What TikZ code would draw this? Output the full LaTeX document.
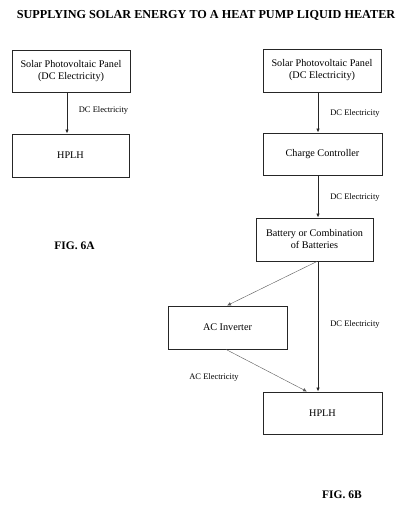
\documentclass[tikz,border=0pt]{standalone}
\usepackage{fontspec}
\setmainfont{Liberation Serif}
\usetikzlibrary{arrows.meta}
\begin{document}
\begin{tikzpicture}[x=1pt,y=-1pt,
  box/.style={draw=black!85,line width=0.9pt,minimum width=118pt,minimum height=42pt,inner sep=1pt,align=center,font=\fontsize{10.2}{12}\selectfont},
  lbl/.style={font=\fontsize{8.5}{10}\selectfont,inner sep=0pt},
  flow/.style={draw=black!85,line width=0.8pt,-{Latex[length=4pt,width=3.5pt]}},
  thin/.style={draw=black!65,line width=0.4pt,-{Latex[length=4pt,width=3.5pt]}},
  fig/.style={font=\bfseries\fontsize{11.5}{13}\selectfont,inner sep=0pt}]
\useasboundingbox (0,0) rectangle (412,513);
\node[font=\bfseries\fontsize{12.2}{14}\selectfont,inner sep=0pt] (title) at (206,15) {SUPPLYING SOLAR ENERGY TO A HEAT PUMP LIQUID HEATER};
% Fig 6A
\node[box] (sa) at (71,71) {Solar Photovoltaic Panel\\(DC Electricity)};
\node[box,minimum width=117pt,minimum height=43pt] (ha) at (70.5,155.5) {HPLH};
\draw[flow] ([xshift=-4pt]sa.south) -- ([xshift=-3.5pt]ha.north);
\node[lbl] (la) at (103.5,110) {DC Electricity};
\node[fig] (figa) at (74.5,246) {FIG. 6A};
% Fig 6B
\node[box,minimum height=43pt] (sb) at (322,70.5) {Solar Photovoltaic Panel\\(DC Electricity)};
\node[box,minimum width=119pt] (cc) at (322.5,154) {Charge Controller};
\node[box,minimum width=117pt,minimum height=43pt] (bat) at (314.5,239.5) {Battery or Combination\\of Batteries};
\node[box,minimum width=119pt,minimum height=43pt] (inv) at (227.5,327.5) {AC Inverter};
\node[box,minimum width=119pt] (hb) at (322.5,413) {HPLH};
\draw[flow] ([xshift=-4pt]sb.south) -- ([xshift=-4.5pt]cc.north);
\draw[flow] ([xshift=-4.5pt]cc.south) -- ([xshift=3.5pt]bat.north);
\draw[flow] ([xshift=3.5pt]bat.south) -- ([xshift=-4.5pt]hb.north);
\draw[thin] ([xshift=2.5pt]bat.south) -- ([xshift=-0.5pt]inv.north);
\draw[thin] ([xshift=-1.5pt]inv.south) -- ([xshift=-15.5pt]hb.north);
\node[lbl] (l1) at (355,113) {DC Electricity};
\node[lbl] (l2) at (355,197) {DC Electricity};
\node[lbl] (l3) at (355,324) {DC Electricity};
\node[lbl] (l4) at (214,377) {AC Electricity};
\node[fig] (figb) at (342,495) {FIG. 6B};
\end{tikzpicture}
\end{document}
